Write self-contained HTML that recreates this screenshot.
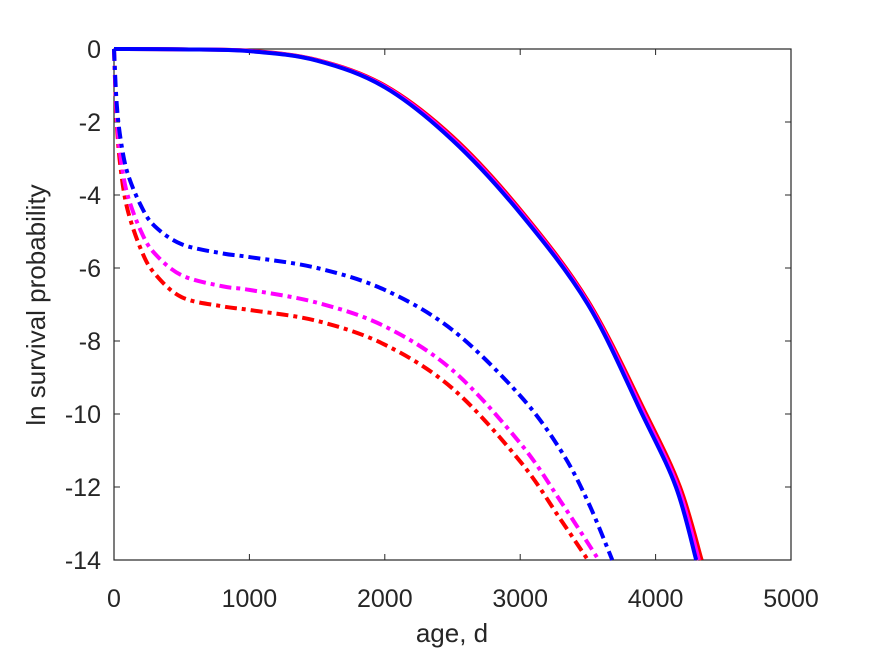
<!DOCTYPE html>
<html><head><meta charset="utf-8"><style>
body{margin:0;background:#fff}
text{font-family:"Liberation Sans",sans-serif;fill:#262626}
</style></head><body>
<svg id="chart" width="875" height="656" xmlns="http://www.w3.org/2000/svg">
<g id="plot"></g>
<text x="452" y="642" font-size="26" text-anchor="middle">age, d</text>
<text transform="translate(45,305) rotate(-90)" font-size="26" text-anchor="middle">ln survival probability</text>
</svg>
<script>
const xTicks=[0,1000,2000,3000,4000,5000];
const yTicks=[0,-2,-4,-6,-8,-10,-12,-14];
const solidX=[0,500,1000,1500,2000,2500,3000,3500,3900,4150,4300];
const solidBlueY=[0,-0.01,-0.06,-0.32,-1.05,-2.5,-4.5,-7.0,-10,-12,-14];
const solidRedX=[0,500,1000,1500,2000,2500,3000,3500,3930,4180,4340];
const solidRedY=[0,-0.01,-0.05,-0.3,-1.0,-2.4,-4.4,-6.9,-10,-12,-14];
const blueDashX=[0,20,50,100,200,300,500,800,1000,1500,2000,2500,3000,3300,3500,3680];
const blueDashY=[0,-1.5,-2.5,-3.4,-4.3,-4.85,-5.35,-5.6,-5.7,-6.0,-6.6,-7.7,-9.5,-11.0,-12.4,-14];
const magDashX=[0,20,50,100,200,300,500,800,1000,1500,2000,2500,3000,3300,3580];
const magDashY=[0,-1.8,-3.0,-4.0,-5.0,-5.6,-6.2,-6.5,-6.6,-6.95,-7.6,-8.8,-10.8,-12.4,-14];
const redDashX=[0,20,50,100,200,300,500,800,1000,1500,2000,2500,3000,3300,3500];
const redDashY=[0,-2.0,-3.3,-4.4,-5.5,-6.15,-6.8,-7.05,-7.15,-7.45,-8.1,-9.3,-11.3,-12.9,-14];
const L=114,R=791,T=49,B=560;
const sx=v=>L+(v-0)/(5000)*(R-L);
const sy=v=>T+(0-v)/14*(B-T);
const NS="http://www.w3.org/2000/svg";
const g=document.getElementById('plot');
function mk(t,a){const e=document.createElementNS(NS,t);for(const k in a)e.setAttribute(k,a[k]);return e;}
const box=mk('rect',{x:L,y:T,width:R-L,height:B-T,fill:'#fff',stroke:'#262626','stroke-width':1.2});


g.appendChild(box);
xTicks.forEach(v=>{const x=sx(v);
 const t=mk('path',{d:`M${x},${B}v-6M${x},${T}v6`,stroke:'#262626','stroke-width':1});
 
 
 g.appendChild(t);
 const l=mk('text',{x:x,y:B+47,'font-size':25,'text-anchor':'middle'});l.textContent=v;
 
 
 g.appendChild(l);});
yTicks.forEach(v=>{const y=sy(v);
 const t=mk('path',{d:`M${L},${y}h6M${R},${y}h-6`,stroke:'#262626','stroke-width':1});
 
 
 g.appendChild(t);
 const l=mk('text',{x:L-13,y:y+9,'font-size':25,'text-anchor':'end'});l.textContent=v;
 
 
 g.appendChild(l);});
function pathD(xs,ys){const p=xs.map((x,i)=>[sx(x),sy(ys[i])]);let d=`M${p[0][0]},${p[0][1]}`;
 for(let i=0;i<p.length-1;i++){const p0=p[i-1]||p[i],p1=p[i],p2=p[i+1],p3=p[i+2]||p2;
  const c1=[p1[0]+(p2[0]-p0[0])/6,p1[1]+(p2[1]-p0[1])/6],c2=[p2[0]-(p3[0]-p1[0])/6,p2[1]-(p3[1]-p1[1])/6];
  d+=`C${c1[0]},${c1[1]} ${c2[0]},${c2[1]} ${p2[0]},${p2[1]}`;}return d;}
function line(xs,ys,col,dash,name){const e=mk('path',{d:pathD(xs,ys),fill:'none',stroke:col,'stroke-width':4});
 if(dash)e.setAttribute('stroke-dasharray','12,5,4,5');
 
 
 g.appendChild(e);}
line(redDashX,redDashY,'#ff0000',true,'red-dashdot-line');
line(magDashX,magDashY,'#ff00ff',true,'magenta-dashdot-line');
line(blueDashX,blueDashY,'#0000ff',true,'blue-dashdot-line');
line(solidRedX,solidRedY,'#ff0000',false,'red-solid-line');
const m=solidRedX.map((x,i)=>(x+solidX[i])/2),my=solidRedY.map((y,i)=>(y+solidBlueY[i])/2);
line(m,my,'#ff00ff',false,'magenta-solid-line');
line(solidX,solidBlueY,'#0000ff',false,'blue-solid-line');
</script>
</body></html>
